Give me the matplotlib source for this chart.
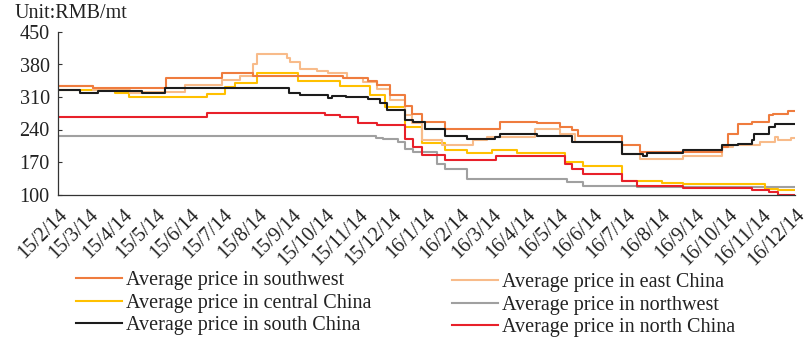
import matplotlib
matplotlib.use("Agg")
import matplotlib.pyplot as plt
import pandas as pd

plt.rcParams['font.family'] = ['Liberation Serif', 'DejaVu Serif']

END_DATE = "2016-12-14"

sw_dates = ["2015-02-14", "2015-03-18", "2015-05-23", "2015-07-13", "2015-08-10", "2015-10-31",
            "2015-11-22", "2015-12-01", "2015-12-12", "2015-12-26", "2016-01-01", "2016-01-10",
            "2016-01-31", "2016-03-21", "2016-04-24", "2016-05-15", "2016-05-26", "2016-05-31",
            "2016-07-10", "2016-07-26", "2016-10-09", "2016-10-14", "2016-10-23", "2016-11-05",
            "2016-11-20", "2016-11-24", "2016-12-08"]
sw_vals = [333, 329, 351, 361, 355, 350, 344, 335, 314, 290, 274, 256,
           242, 256, 253, 245, 238, 227, 207, 191, 202, 231, 251, 256, 271, 274, 280]

east_dates = ["2015-02-14", "2015-03-18", "2015-04-20", "2015-05-02", "2015-06-09", "2015-07-13",
              "2015-07-29", "2015-08-10", "2015-08-14", "2015-09-10", "2015-09-13", "2015-09-22",
              "2015-10-07", "2015-10-17", "2015-11-03", "2015-11-18", "2015-12-01", "2015-12-12",
              "2015-12-26", "2016-01-01", "2016-01-10", "2016-01-29", "2016-02-26", "2016-03-09",
              "2016-04-22", "2016-05-15", "2016-05-28", "2016-07-10", "2016-07-26", "2016-09-03",
              "2016-10-09", "2016-10-19", "2016-11-12", "2016-11-26", "2016-11-29", "2016-12-10"]
east_vals = [333, 325, 318, 321, 335, 346, 355, 380, 402, 395, 386, 371,
             366, 362, 350, 343, 328, 303, 271, 253, 217, 206, 217, 224,
             242, 231, 213, 188, 177, 184, 202, 206, 213, 224, 217, 222]

central_dates = ["2015-02-14", "2015-04-07", "2015-04-19", "2015-06-29", "2015-07-16", "2015-07-25",
                 "2015-08-14", "2015-09-20", "2015-10-28", "2015-11-24", "2015-12-08", "2015-12-26",
                 "2016-01-10", "2016-01-31", "2016-02-20", "2016-03-14", "2016-04-06", "2016-05-19",
                 "2016-06-05", "2016-07-10", "2016-08-15", "2016-09-03", "2016-11-17", "2016-11-29"]
central_vals = [325, 319, 309, 316, 332, 340, 361, 344, 333, 315, 289, 245,
                211, 196, 189, 195, 189, 170, 161, 130, 125, 122, 112, 109]

nw_dates = ["2015-02-14", "2015-11-30", "2015-12-06", "2015-12-20", "2015-12-26", "2016-01-02",
            "2016-01-24", "2016-01-31", "2016-02-20", "2016-05-21", "2016-06-05", "2016-07-24"]
nw_vals = [225, 222, 219, 213, 199, 191, 166, 155, 134, 127, 119, 116]

south_dates = ["2015-02-14", "2015-03-06", "2015-03-22", "2015-05-01", "2015-05-22", "2015-09-12",
               "2015-09-22", "2015-10-17", "2015-10-21", "2015-11-02", "2015-11-22", "2015-12-03",
               "2015-12-10", "2015-12-26", "2016-01-02", "2016-01-13", "2016-01-31", "2016-02-20",
               "2016-03-17", "2016-03-21", "2016-04-24", "2016-05-26", "2016-07-10", "2016-07-29",
               "2016-08-02", "2016-09-03", "2016-10-09", "2016-10-23", "2016-11-05", "2016-11-07",
               "2016-11-20", "2016-11-26"]
south_vals = [325, 319, 323, 318, 330, 319, 314, 308, 313, 310, 305, 297,
              281, 260, 256, 242, 225, 220, 224, 231, 225, 213, 188, 182,
              189, 195, 206, 209, 217, 231, 245, 251]

north_dates = ["2015-02-14", "2015-06-29", "2015-10-14", "2015-10-28", "2015-11-13", "2015-12-01",
               "2015-12-26", "2016-01-02", "2016-01-10", "2016-01-31", "2016-03-18", "2016-05-19",
               "2016-05-26", "2016-06-05", "2016-07-10", "2016-07-24", "2016-09-03", "2016-11-05",
               "2016-11-20", "2016-11-29"]
north_vals = [266, 276, 271, 266, 255, 250, 220, 202, 186, 175, 182, 166,
              155, 145, 130, 119, 114, 110, 105, 100]

tick_dates = pd.date_range("2015-02-14", END_DATE, freq=pd.DateOffset(months=1))
tick_labels = ["15/2/14", "15/3/14", "15/4/14", "15/5/14", "15/6/14", "15/7/14", "15/8/14",
               "15/9/14", "15/10/14", "15/11/14", "15/12/14", "16/1/14", "16/2/14", "16/3/14",
               "16/4/14", "16/5/14", "16/6/14", "16/7/14", "16/8/14", "16/9/14", "16/10/14",
               "16/11/14", "16/12/14"]
y_ticks = [100, 170, 240, 310, 380, 450]

series = [
    ("Average price in northwest", nw_dates, nw_vals, "#a0a0a0"),
    ("Average price in central China", central_dates, central_vals, "#ffc000"),
    ("Average price in east China", east_dates, east_vals, "#f8bb8a"),
    ("Average price in southwest", sw_dates, sw_vals, "#ef7c3e"),
    ("Average price in south China", south_dates, south_vals, "#1c1c1c"),
    ("Average price in north China", north_dates, north_vals, "#e8202a"),
]

fig = plt.figure(figsize=(8.08, 3.38), dpi=100)
ax = fig.add_axes([58/808, 1-194.5/338, (795-58)/808, (194.5-32)/338])

handles = {}
for name, d, v, c in series:
    x = list(pd.to_datetime(d)) + [pd.Timestamp(END_DATE)]
    y = list(v) + [v[-1]]
    ln, = ax.plot(x, y, drawstyle="steps-post", color=c, lw=1.5, label=name)
    handles[name] = ln

ax.set_xlim(pd.Timestamp("2015-02-14"), pd.Timestamp(END_DATE))
ax.set_ylim(100, 450)
ax.set_yticks(y_ticks)
ax.set_xticks(tick_dates)
ax.set_xticklabels(tick_labels, rotation=45, ha="right", va="top", rotation_mode="anchor")
ax.tick_params(axis="x", length=0, pad=8, labelsize=14.5, colors="#222222")
ax.tick_params(axis="y", direction="in", length=3, width=0.8, pad=6, labelsize=14.5,
               colors="#333333", labelcolor="#222222")
for s in ["top", "right"]:
    ax.spines[s].set_visible(False)
for s in ["left", "bottom"]:
    ax.spines[s].set_color("#333333")
    ax.spines[s].set_linewidth(0.9)

fig.text(15/808, 1-13/338, "Unit:RMB/mt", fontsize=14.5, color="#222222", va="center", ha="left")

col1 = ["Average price in southwest", "Average price in central China", "Average price in south China"]
col2 = ["Average price in east China", "Average price in northwest", "Average price in north China"]
common = dict(frameon=False, fontsize=14.5, handlelength=2.3, handletextpad=0.2,
              labelspacing=0.15, borderpad=0, borderaxespad=0, loc="center left")
leg1 = fig.legend([handles[n] for n in col1], col1, bbox_to_anchor=(76/808, 1-303/338), **common)
leg2 = fig.legend([handles[n] for n in col2], col2, bbox_to_anchor=(452/808, 1-305/338), **common)
for leg in (leg1, leg2):
    for t in leg.get_texts():
        t.set_color("#222222")

fig.savefig("out.png", dpi=100)
